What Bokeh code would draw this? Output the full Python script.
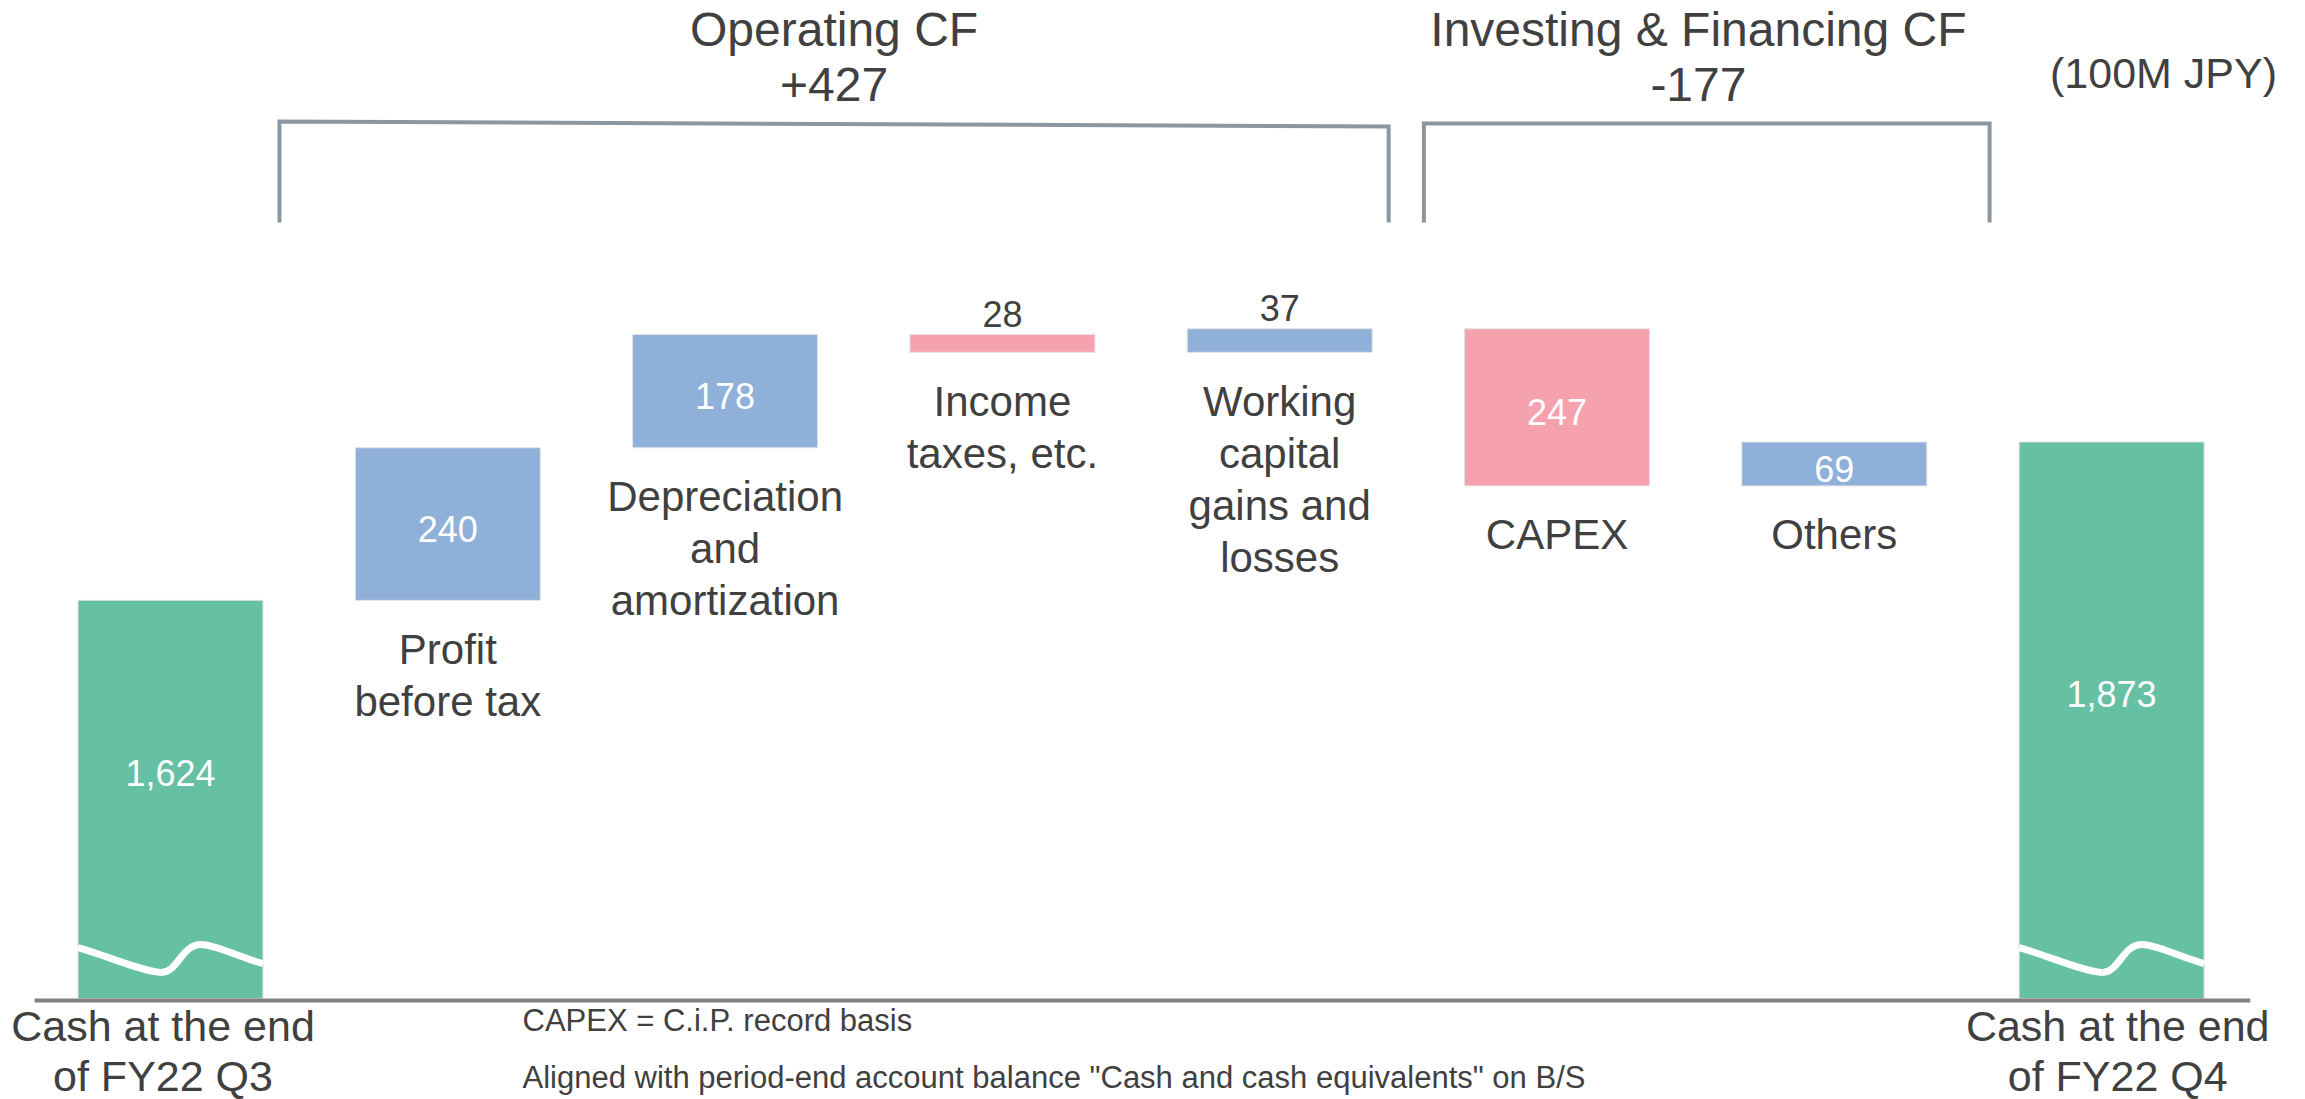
from bokeh.plotting import figure
from bokeh.models import Range1d
from bokeh.core.properties import value
from bokeh.embed import file_html
from bokeh.resources import INLINE

# ---------------- data ----------------
categories = ["Cash at the end\nof FY22 Q3", "Profit\nbefore tax", "Depreciation\nand\namortization",
              "Income\ntaxes, etc.", "Working\ncapital\ngains and\nlosses", "CAPEX", "Others",
              "Cash at the end\nof FY22 Q4"]
values = [1624, 240, 178, -28, 37, -247, 69, 1873]
is_total = [True, False, False, False, False, False, False, True]
value_labels = ["1,624", "240", "178", "28", "37", "247", "69", "1,873"]
group_names = ["Operating CF", "Investing & Financing CF"]
group_totals = ["+427", "-177"]
group_first = [1, 5]
group_last = [4, 6]
unit_label = "(100M JPY)"
footnotes = ["CAPEX = C.i.P. record basis",
             'Aligned with period-end account balance "Cash and cash equivalents" on B/S']

# ---------------- layout / style ----------------
GREEN = "#66C0A4"
BLUE = "#8FB0D8"
PINK = "#F6A2AE"
TEXT = "#404040"
BRACKET = "#8A96A0"
FONT = value("Liberation Sans")

W, H = 2305, 1099
KX = 277.3          # px per category
KY = 0.636          # px per value unit
X0 = -170 / KX
BASE = 998          # value at which the (broken) axis starts
BASE_PX = 998       # page y of the baseline
Y_TOP = BASE + BASE_PX / KY
Y_BOT = Y_TOP - H / KY
label_dx = [-0.027, 0, 0, 0, 0, 0, 0, 0.022]


def ypx(page_y):
    return Y_TOP - page_y / KY


def xpx(page_x):
    return X0 + page_x / KX


def dpx(px):
    return px / KY


p = figure(width=W, height=H, output_backend="svg", toolbar_location=None,
           x_range=Range1d(X0, X0 + W / KX), y_range=Range1d(Y_BOT, Y_TOP),
           x_axis_location=None, y_axis_location=None, min_border=0)
p.xgrid.visible = False
p.ygrid.visible = False
p.outline_line_color = None
p.background_fill_color = "white"

# ---------------- waterfall bars ----------------
idx = list(range(len(values)))
bottoms, tops, colors = [], [], []
running = 0
for v, tot in zip(values, is_total):
    if tot:
        bottoms.append(BASE)
        tops.append(v)
        running = v
        colors.append(GREEN)
    else:
        new = running + v
        bottoms.append(min(running, new))
        tops.append(max(running, new))
        running = new
        colors.append(BLUE if v > 0 else PINK)

BAR_W = 0.667
p.vbar(x=idx, width=BAR_W, bottom=bottoms, top=tops, fill_color=colors,
       line_color="#e2e2e2", line_width=1)

# baseline
p.segment(x0=[-0.49], y0=[BASE - dpx(2)], x1=[7.5], y1=[BASE - dpx(2)],
          line_color="#808080", line_width=4)

# wave (axis-break mark) on the cash bars
wx0, wy0, wx1, wy1, wcx0, wcy0, wcx1, wcy1 = ([] for _ in range(8))
segs = [((0.0, 80), (0.15, 68), (0.36, 41), (0.45, 41)),
        ((0.45, 41), (0.54, 41), (0.56, 85), (0.665, 85)),
        ((0.665, 85), (0.74, 85), (0.86, 66), (1.0, 55))]
for i, tot in zip(idx, is_total):
    if not tot:
        continue
    left = i - BAR_W / 2
    for (a, c0, c1, b) in segs:
        wx0.append(left + a[0] * BAR_W); wy0.append(BASE + a[1])
        wcx0.append(left + c0[0] * BAR_W); wcy0.append(BASE + c0[1])
        wcx1.append(left + c1[0] * BAR_W); wcy1.append(BASE + c1[1])
        wx1.append(left + b[0] * BAR_W); wy1.append(BASE + b[1])
p.bezier(x0=wx0, y0=wy0, x1=wx1, y1=wy1, cx0=wcx0, cy0=wcy0, cx1=wcx1, cy1=wcy1,
         line_color="white", line_width=7)

# ---------------- value labels ----------------
in_x, in_y, in_t, out_x, out_y, out_t = [], [], [], [], [], []
for i in idx:
    h_px = (tops[i] - bottoms[i]) * KY
    if is_total[i]:
        # centred on the part of the bar above the break mark
        in_x.append(i); in_y.append((tops[i] + bottoms[i] + dpx(52)) / 2); in_t.append(value_labels[i])
    elif h_px > 35:
        in_x.append(i); in_y.append((tops[i] + bottoms[i]) / 2 - dpx(5)); in_t.append(value_labels[i])
    else:
        out_x.append(i); out_y.append(tops[i] + dpx(21)); out_t.append(value_labels[i])
p.text(x=in_x, y=in_y, text=in_t, text_color="white", text_font=FONT,
       text_font_size="36px", text_align="center", text_baseline="middle")
p.text(x=out_x, y=out_y, text=out_t, text_color=TEXT, text_font=FONT,
       text_font_size="36px", text_align="center", text_baseline="middle")

# ---------------- category labels ----------------
lx, ly, lt, cx, cy, ct = [], [], [], [], [], []
for i in idx:
    lines = categories[i].split("\n")
    for k, line in enumerate(lines):
        if is_total[i]:
            cx.append(i + label_dx[i])
            cy.append(bottoms[i] - dpx(27 + 50 * k))
            ct.append(line)
        else:
            lx.append(i + label_dx[i])
            ly.append(bottoms[i] - dpx(49 + 52 * k))
            lt.append(line)
p.text(x=lx, y=ly, text=lt, text_color=TEXT, text_font=FONT, text_font_size="42px",
       text_align="center", text_baseline="middle")
p.text(x=cx, y=cy, text=ct, text_color=TEXT, text_font=FONT, text_font_size="43px",
       text_align="center", text_baseline="middle")

# ---------------- group brackets and headings ----------------
pad_left = [0.607, 0.48]
pad_right = [0.393, 0.56]
top_left_px = [121, 123]
top_right_px = [126, 123]
bottom_px = 222
hx, hy, ht = [], [], []
for g in range(len(group_names)):
    L = group_first[g] - pad_left[g]
    R = group_last[g] + pad_right[g]
    p.line(x=[L, L, R, R], y=[ypx(bottom_px), ypx(top_left_px[g]), ypx(top_right_px[g]), ypx(bottom_px)],
           line_color=BRACKET, line_width=4, line_join="miter")
    mid = (L + R) / 2 - (0.03 if g == 1 else 0.0)
    hx += [mid, mid]
    hy += [ypx(29), ypx(84)]
    ht += [group_names[g], group_totals[g]]
p.text(x=hx, y=hy, text=ht, text_color=TEXT, text_font=FONT, text_font_size="48px",
       text_align="center", text_baseline="middle")

# unit
p.text(x=[xpx(2163)], y=[ypx(72)], text=[unit_label], text_color=TEXT, text_font=FONT,
       text_font_size="43px", text_align="center", text_baseline="middle")

# footnotes
p.text(x=[xpx(522)] * 2, y=[ypx(1020), ypx(1077)], text=footnotes, text_color=TEXT,
       text_font=FONT, text_font_size="31px", text_align="left", text_baseline="middle")

open("out.html", "w").write(file_html(p, INLINE))
